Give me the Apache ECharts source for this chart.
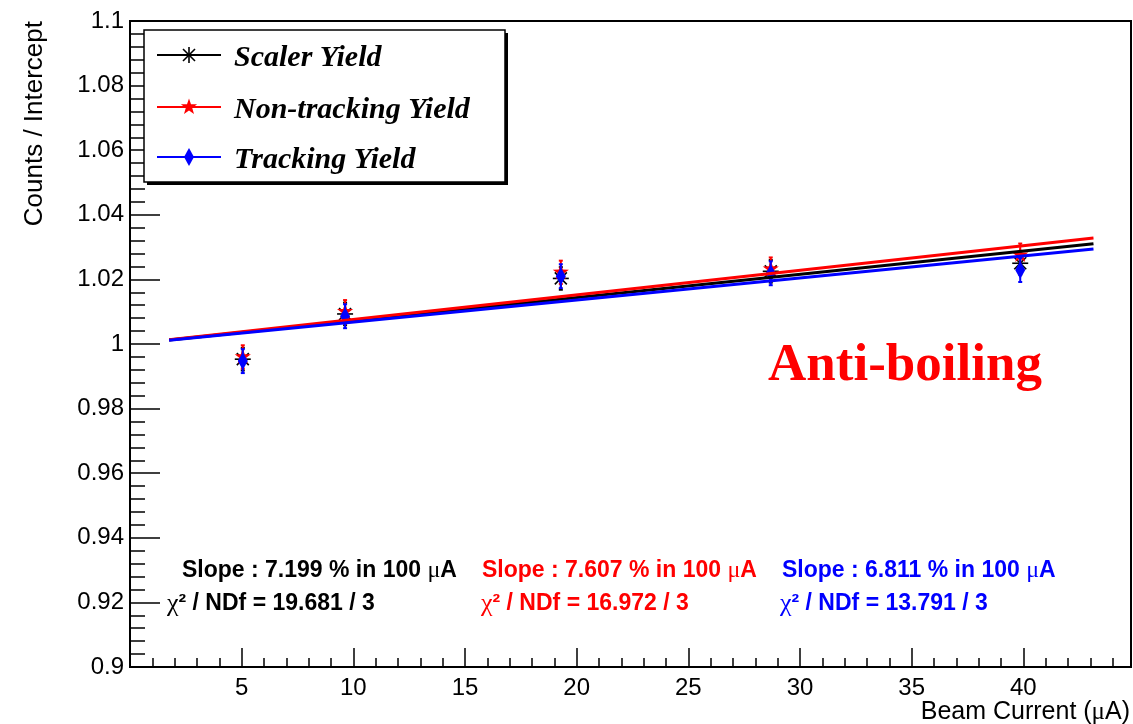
<!DOCTYPE html>
<html>
<head>
<meta charset="utf-8">
<title>Anti-boiling yield vs beam current</title>
<script src="https://cdn.jsdelivr.net/npm/echarts@6/dist/echarts.min.js"></script>
<style>
  html, body { margin: 0; padding: 0; background: #ffffff; }
  #chart { width: 1133px; height: 724px; }
</style>
</head>
<body>
<div id="chart"></div>
<script>
// Beam current of each run (µA)
const current = [5.05, 9.63, 19.29, 28.69, 39.86];

// Yields normalised to the intercept of the linear fit
const scalerYield      = [0.9953, 1.0093, 1.0203, 1.0225, 1.0250];
const nonTrackingYield = [0.9960, 1.0100, 1.0222, 1.0232, 1.0275];
const trackingYield    = [0.9947, 1.0086, 1.0210, 1.0219, 1.0229];

// Statistical uncertainties on the normalised yields
const scalerErr      = [0.0035, 0.0035, 0.0035, 0.0035, 0.0035];
const nonTrackingErr = [0.0036, 0.0036, 0.0036, 0.0036, 0.0036];
const trackingErr    = [0.0037, 0.0037, 0.0037, 0.0037, 0.0037];

// Fit results: slope in % per 100 µA, chi-square and degrees of freedom
const seriesNames = ['Scaler Yield', 'Non-tracking Yield', 'Tracking Yield'];
const seriesColors = ['#000000', '#ff0000', '#0000ff'];
const markerKinds = ['asterisk', 'star', 'diamond'];
const slopes = [7.199, 7.607, 6.811];
const chi2 = [19.681, 16.972, 13.791];
const ndf = [3, 3, 3];
const fitRange = [1.75, 43.14];

// Axis ranges
const xRange = [0, 44.82];
const yRange = [0.9, 1.1];
const xStep = 5;
const yStep = 0.02;

const yields = [scalerYield, nonTrackingYield, trackingYield];
const errors = [scalerErr, nonTrackingErr, trackingErr];

// Marker glyphs drawn around a centre point (pixel units)
function markerShapes(kind, cx, cy, color) {
  if (kind === 'asterisk') {
    const r = 8, d = 6;
    return [[-r, 0, r, 0], [0, -r, 0, r], [-d, -d, d, d], [-d, d, d, -d]].map(s => ({
      type: 'line',
      shape: { x1: cx + s[0], y1: cy + s[1], x2: cx + s[2], y2: cy + s[3] },
      style: { stroke: color, lineWidth: 1.6 }
    }));
  }
  if (kind === 'star') {
    const pts = [];
    for (let i = 0; i < 10; i++) {
      const r = i % 2 ? 3.4 : 8.5;
      const a = -Math.PI / 2 + i * Math.PI / 5;
      pts.push([cx + r * Math.cos(a), cy + r * Math.sin(a)]);
    }
    return [{ type: 'polygon', shape: { points: pts }, style: { fill: color } }];
  }
  return [{
    type: 'polygon',
    shape: { points: [[cx, cy - 9], [cx + 5, cy], [cx, cy + 9], [cx - 5, cy]] },
    style: { fill: color }
  }];
}

// Point with vertical error bar, placed through the axis scales
function pointRenderer(kind, color) {
  return function (params, api) {
    const x = api.value(0), y = api.value(1), e = api.value(2);
    const c = api.coord([x, y]);
    const lo = api.coord([x, y - e]);
    const hi = api.coord([x, y + e]);
    const children = [
      { type: 'line', shape: { x1: c[0], y1: lo[1], x2: c[0], y2: hi[1] }, style: { stroke: color, lineWidth: 2 } },
      { type: 'line', shape: { x1: c[0] - 2, y1: lo[1], x2: c[0] + 2, y2: lo[1] }, style: { stroke: color, lineWidth: 2 } },
      { type: 'line', shape: { x1: c[0] - 2, y1: hi[1], x2: c[0] + 2, y2: hi[1] }, style: { stroke: color, lineWidth: 2 } }
    ].concat(markerShapes(kind, c[0], c[1], color));
    return { type: 'group', children: children };
  };
}

const series = [];
// Linear fits, normalised so the intercept equals one
seriesNames.forEach((name, i) => {
  series.push({
    name: name + ' fit',
    type: 'line',
    showSymbol: false,
    silent: true,
    lineStyle: { color: seriesColors[i], width: 3 },
    data: fitRange.map(x => [x, 1 + slopes[i] / 100 * x / 100])
  });
});
// Measured points
seriesNames.forEach((name, i) => {
  series.push({
    name: name,
    type: 'custom',
    renderItem: pointRenderer(markerKinds[i], seriesColors[i]),
    encode: { x: 0, y: 1 },
    data: current.map((x, k) => [x, yields[i][k], errors[i][k]])
  });
});

const sans = '"Liberation Sans", Arial, Helvetica, sans-serif';
const serif = '"Liberation Serif", "Times New Roman", serif';

// Legend box with drop shadow
const legendBox = { x: 144, y: 30, w: 361, h: 152 };
const legendRows = [55, 107, 157];
const graphics = [
  { type: 'rect', z: 100, shape: { x: legendBox.x + 3, y: legendBox.y + 3, width: legendBox.w, height: legendBox.h }, style: { fill: '#000' } },
  { type: 'rect', z: 101, shape: { x: legendBox.x, y: legendBox.y, width: legendBox.w, height: legendBox.h }, style: { fill: '#fff', stroke: '#000', lineWidth: 1.5 } }
];
seriesNames.forEach((name, i) => {
  const yy = legendRows[i];
  graphics.push({ type: 'line', z: 102, shape: { x1: 157, y1: yy, x2: 221, y2: yy }, style: { stroke: seriesColors[i], lineWidth: 2 } });
  markerShapes(markerKinds[i], 189, yy, seriesColors[i]).forEach(m => { m.z = 103; graphics.push(m); });
  graphics.push({
    type: 'text', z: 103, x: 234, y: yy + 3,
    style: { text: name, fill: '#000', font: 'italic bold 30px ' + serif, align: 'left', verticalAlign: 'middle' }
  });
});

// Fit summaries
const slopeX = [182, 482, 782];
const chiX = [167, 481, 780];
seriesNames.forEach((name, i) => {
  const col = seriesColors[i];
  graphics.push({
    type: 'text', z: 100, x: slopeX[i], y: 571,
    style: {
      text: '{b|Slope : ' + slopes[i].toFixed(3) + ' % in 100 }{m|μ}{b|A}',
      align: 'left', verticalAlign: 'middle',
      rich: {
        b: { fill: col, fontSize: 23, fontWeight: 'bold', fontFamily: sans },
        m: { fill: col, fontSize: 24, fontFamily: serif }
      }
    }
  });
  graphics.push({
    type: 'text', z: 100, x: chiX[i], y: 604,
    style: {
      text: '{m|χ}{b|² / NDf = ' + chi2[i].toFixed(3) + ' / ' + ndf[i] + '}',
      align: 'left', verticalAlign: 'middle',
      rich: {
        b: { fill: col, fontSize: 23, fontWeight: 'bold', fontFamily: sans },
        m: { fill: col, fontSize: 26, fontFamily: serif }
      }
    }
  });
});

// Condition label
graphics.push({
  type: 'text', z: 100, x: 768, y: 366,
  style: { text: 'Anti-boiling', fill: '#ff0000', font: 'bold 53px ' + serif, align: 'left', verticalAlign: 'middle' }
});

// Axis titles
graphics.push({
  type: 'text', z: 100, x: 1130, y: 712,
  style: {
    text: '{a|Beam Current (}{m|μ}{a|A)}', align: 'right', verticalAlign: 'middle',
    rich: {
      a: { fill: '#000', fontSize: 25, fontFamily: sans },
      m: { fill: '#000', fontSize: 25, fontFamily: serif }
    }
  }
});
graphics.push({
  type: 'text', z: 100, x: 35, y: 21, rotation: Math.PI / 2,
  style: { text: 'Counts / Intercept', fill: '#000', font: '26px ' + sans, align: 'right', verticalAlign: 'middle' }
});

const chart = echarts.init(document.getElementById('chart'), null, { renderer: 'canvas' });
chart.setOption({
  animation: false,
  backgroundColor: '#ffffff',
  grid: { left: 130, right: 2, top: 21, bottom: 57, show: true, borderColor: '#000', borderWidth: 2, backgroundColor: 'transparent' },
  xAxis: {
    type: 'value',
    min: xRange[0], max: xRange[1], interval: xStep,
    axisLine: { show: true, onZero: false, lineStyle: { color: '#000', width: 2 } },
    axisTick: { show: true, inside: true, length: 19, lineStyle: { color: '#000', width: 1.5 } },
    minorTick: { show: true, splitNumber: 5, length: 9, lineStyle: { color: '#000', width: 1.5 } },
    splitLine: { show: false },
    axisLabel: {
      color: '#000', fontSize: 24, fontFamily: sans, margin: 9,
      showMinLabel: false, showMaxLabel: false,
      formatter: v => (v === 0 ? '' : String(v))
    }
  },
  yAxis: {
    type: 'value',
    min: yRange[0], max: yRange[1], interval: yStep,
    axisLine: { show: true, onZero: false, lineStyle: { color: '#000', width: 2 } },
    axisTick: { show: true, inside: true, length: 30, lineStyle: { color: '#000', width: 1.5 } },
    minorTick: { show: true, splitNumber: 5, length: 15, lineStyle: { color: '#000', width: 1.5 } },
    splitLine: { show: false },
    axisLabel: {
      color: '#000', fontSize: 24, fontFamily: sans, margin: 6,
      formatter: v => String(+v.toFixed(2))
    }
  },
  series: series,
  graphic: graphics
});
</script>
</body>
</html>
